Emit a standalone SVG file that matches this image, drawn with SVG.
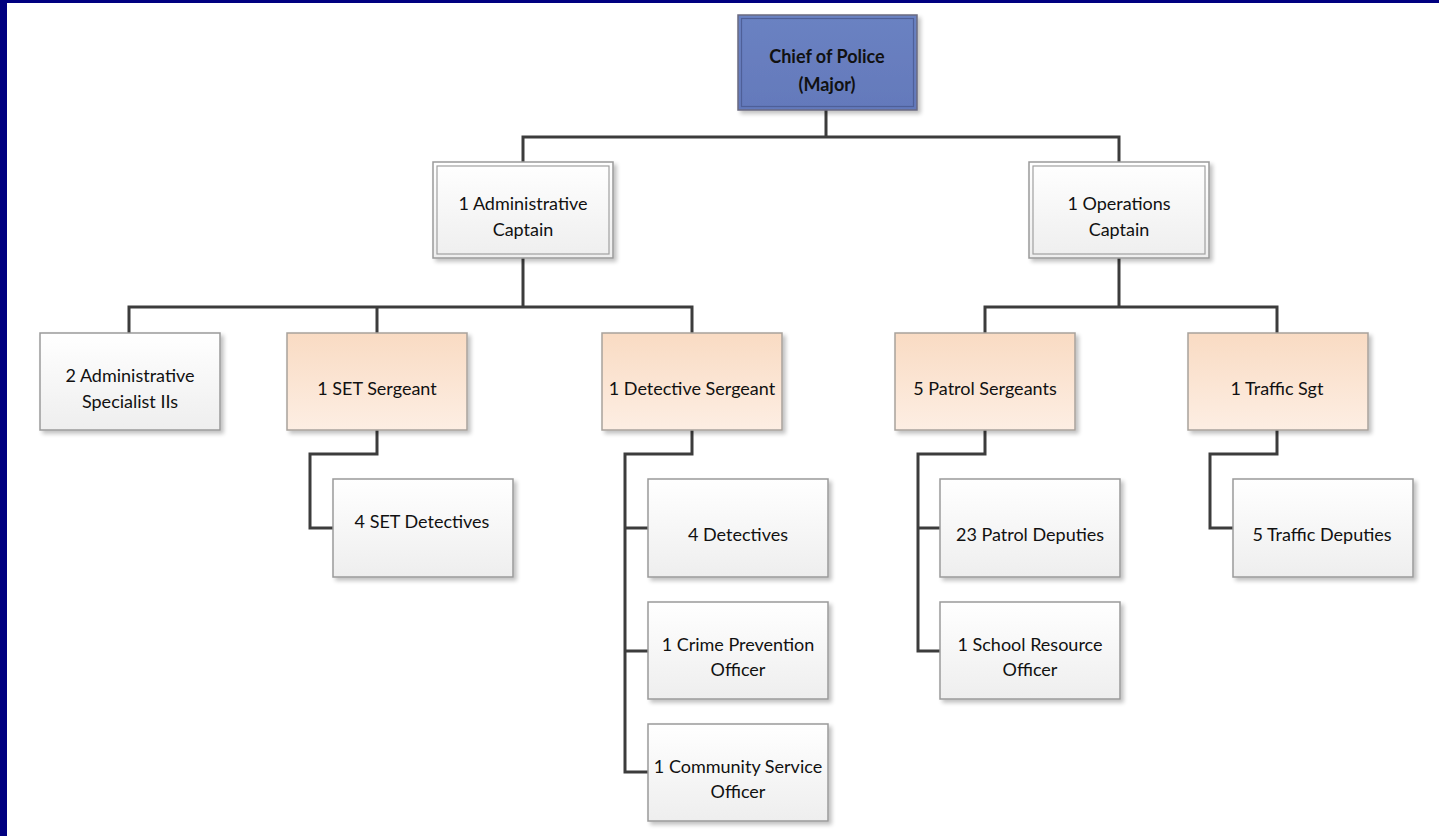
<svg xmlns="http://www.w3.org/2000/svg" width="1439" height="836" viewBox="0 0 1439 836">
<defs>
<linearGradient id="gw" x1="0" y1="0" x2="0" y2="1"><stop offset="0" stop-color="#ffffff"/><stop offset="1" stop-color="#eeeeee"/></linearGradient>
<linearGradient id="gp" x1="0" y1="0" x2="0" y2="1"><stop offset="0" stop-color="#f9dbc3"/><stop offset="1" stop-color="#fdeee3"/></linearGradient>
<linearGradient id="gb" x1="0" y1="0" x2="0" y2="1"><stop offset="0" stop-color="#6a82c2"/><stop offset="1" stop-color="#6479bb"/></linearGradient>
<filter id="sh" x="-10%" y="-10%" width="130%" height="130%"><feGaussianBlur in="SourceAlpha" stdDeviation="2"/><feOffset dx="3" dy="3"/><feComponentTransfer><feFuncA type="linear" slope="0.25"/></feComponentTransfer><feMerge><feMergeNode/><feMergeNode in="SourceGraphic"/></feMerge></filter>
</defs>
<style>
.w{fill:url(#gw);stroke:#9a9a9a;stroke-width:1.5;filter:url(#sh)}
.p{fill:url(#gp);stroke:#a8a29c;stroke-width:1.5;filter:url(#sh)}
.in{fill:none;stroke:#a0a0a0;stroke-width:1.2}
.t{font-family:Lato,"Open Sans","Liberation Sans",sans-serif;font-size:18px;fill:#111;text-anchor:middle}
.b{font-weight:bold}
.c{fill:none;stroke:#3c3c3c;stroke-width:3;stroke-linejoin:miter}
</style>
<rect x="0" y="0" width="1439" height="836" fill="#ffffff"/>
<rect x="0" y="0" width="1439" height="3" fill="#000080"/>
<rect x="0" y="0" width="7" height="836" fill="#000080"/>

<g id="connectors">
<path class="c" d="M826 110V137M523 163V137H1119V163"/>
<path class="c" d="M523 258V307M129 333V307H692V333M377 307V333"/>
<path class="c" d="M1119 258V307M985 333V307H1277V333"/>
<path class="c" d="M377 430V454H310V528H333"/>
<path class="c" d="M692 430V454H625V772H648M625 528H648M625 651H648"/>
<path class="c" d="M985 430V454H918V651H940M918 528H940"/>
<path class="c" d="M1277 430V454H1210V528H1233"/>
</g>

<g id="chief">
<rect x="738" y="15" width="179" height="95" fill="url(#gb)" stroke="#6a6a80" stroke-width="1.5" filter="url(#sh)"/>
<rect x="741.5" y="18.5" width="172" height="88" fill="none" stroke="#4e5f98" stroke-width="1.2"/>
<text class="t b" x="827" y="63">Chief of Police</text>
<text class="t b" x="827" y="91">(Major)</text>
</g>

<g id="admin-captain">
<rect class="w" x="433" y="162" width="180" height="96"/>
<rect class="in" x="437" y="166" width="172" height="88"/>
<text class="t" x="523" y="210">1 Administrative</text>
<text class="t" x="523" y="236">Captain</text>
</g>

<g id="ops-captain">
<rect class="w" x="1029" y="162" width="180" height="96"/>
<rect class="in" x="1033" y="166" width="172" height="88"/>
<text class="t" x="1119" y="210">1 Operations</text>
<text class="t" x="1119" y="236">Captain</text>
</g>

<g id="admin-specialists">
<rect class="w" x="40" y="333" width="180" height="97"/>
<text class="t" x="130" y="382">2 Administrative</text>
<text class="t" x="130" y="408">Specialist IIs</text>
</g>

<g id="set-sergeant">
<rect class="p" x="287" y="333" width="180" height="97"/>
<text class="t" x="377" y="395">1 SET Sergeant</text>
</g>

<g id="detective-sergeant">
<rect class="p" x="602" y="333" width="180" height="97"/>
<text class="t" x="692" y="395">1 Detective Sergeant</text>
</g>

<g id="patrol-sergeants">
<rect class="p" x="895" y="333" width="180" height="97"/>
<text class="t" x="985" y="395">5 Patrol Sergeants</text>
</g>

<g id="traffic-sgt">
<rect class="p" x="1188" y="333" width="180" height="97"/>
<text class="t" x="1277" y="395">1 Traffic Sgt</text>
</g>

<g id="set-detectives">
<rect class="w" x="333" y="479" width="180" height="98"/>
<text class="t" x="422" y="528">4 SET Detectives</text>
</g>

<g id="detectives">
<rect class="w" x="648" y="479" width="180" height="98"/>
<text class="t" x="738" y="541">4 Detectives</text>
</g>

<g id="crime-prevention">
<rect class="w" x="648" y="602" width="180" height="97"/>
<text class="t" x="738" y="651">1 Crime Prevention</text>
<text class="t" x="738" y="676">Officer</text>
</g>

<g id="community-service">
<rect class="w" x="648" y="724" width="180" height="97"/>
<text class="t" x="738" y="773">1 Community Service</text>
<text class="t" x="738" y="798">Officer</text>
</g>

<g id="patrol-deputies">
<rect class="w" x="940" y="479" width="180" height="98"/>
<text class="t" x="1030" y="541">23 Patrol Deputies</text>
</g>

<g id="school-resource">
<rect class="w" x="940" y="602" width="180" height="97"/>
<text class="t" x="1030" y="651">1 School Resource</text>
<text class="t" x="1030" y="676">Officer</text>
</g>

<g id="traffic-deputies">
<rect class="w" x="1233" y="479" width="180" height="98"/>
<text class="t" x="1322" y="541">5 Traffic Deputies</text>
</g>
</svg>
